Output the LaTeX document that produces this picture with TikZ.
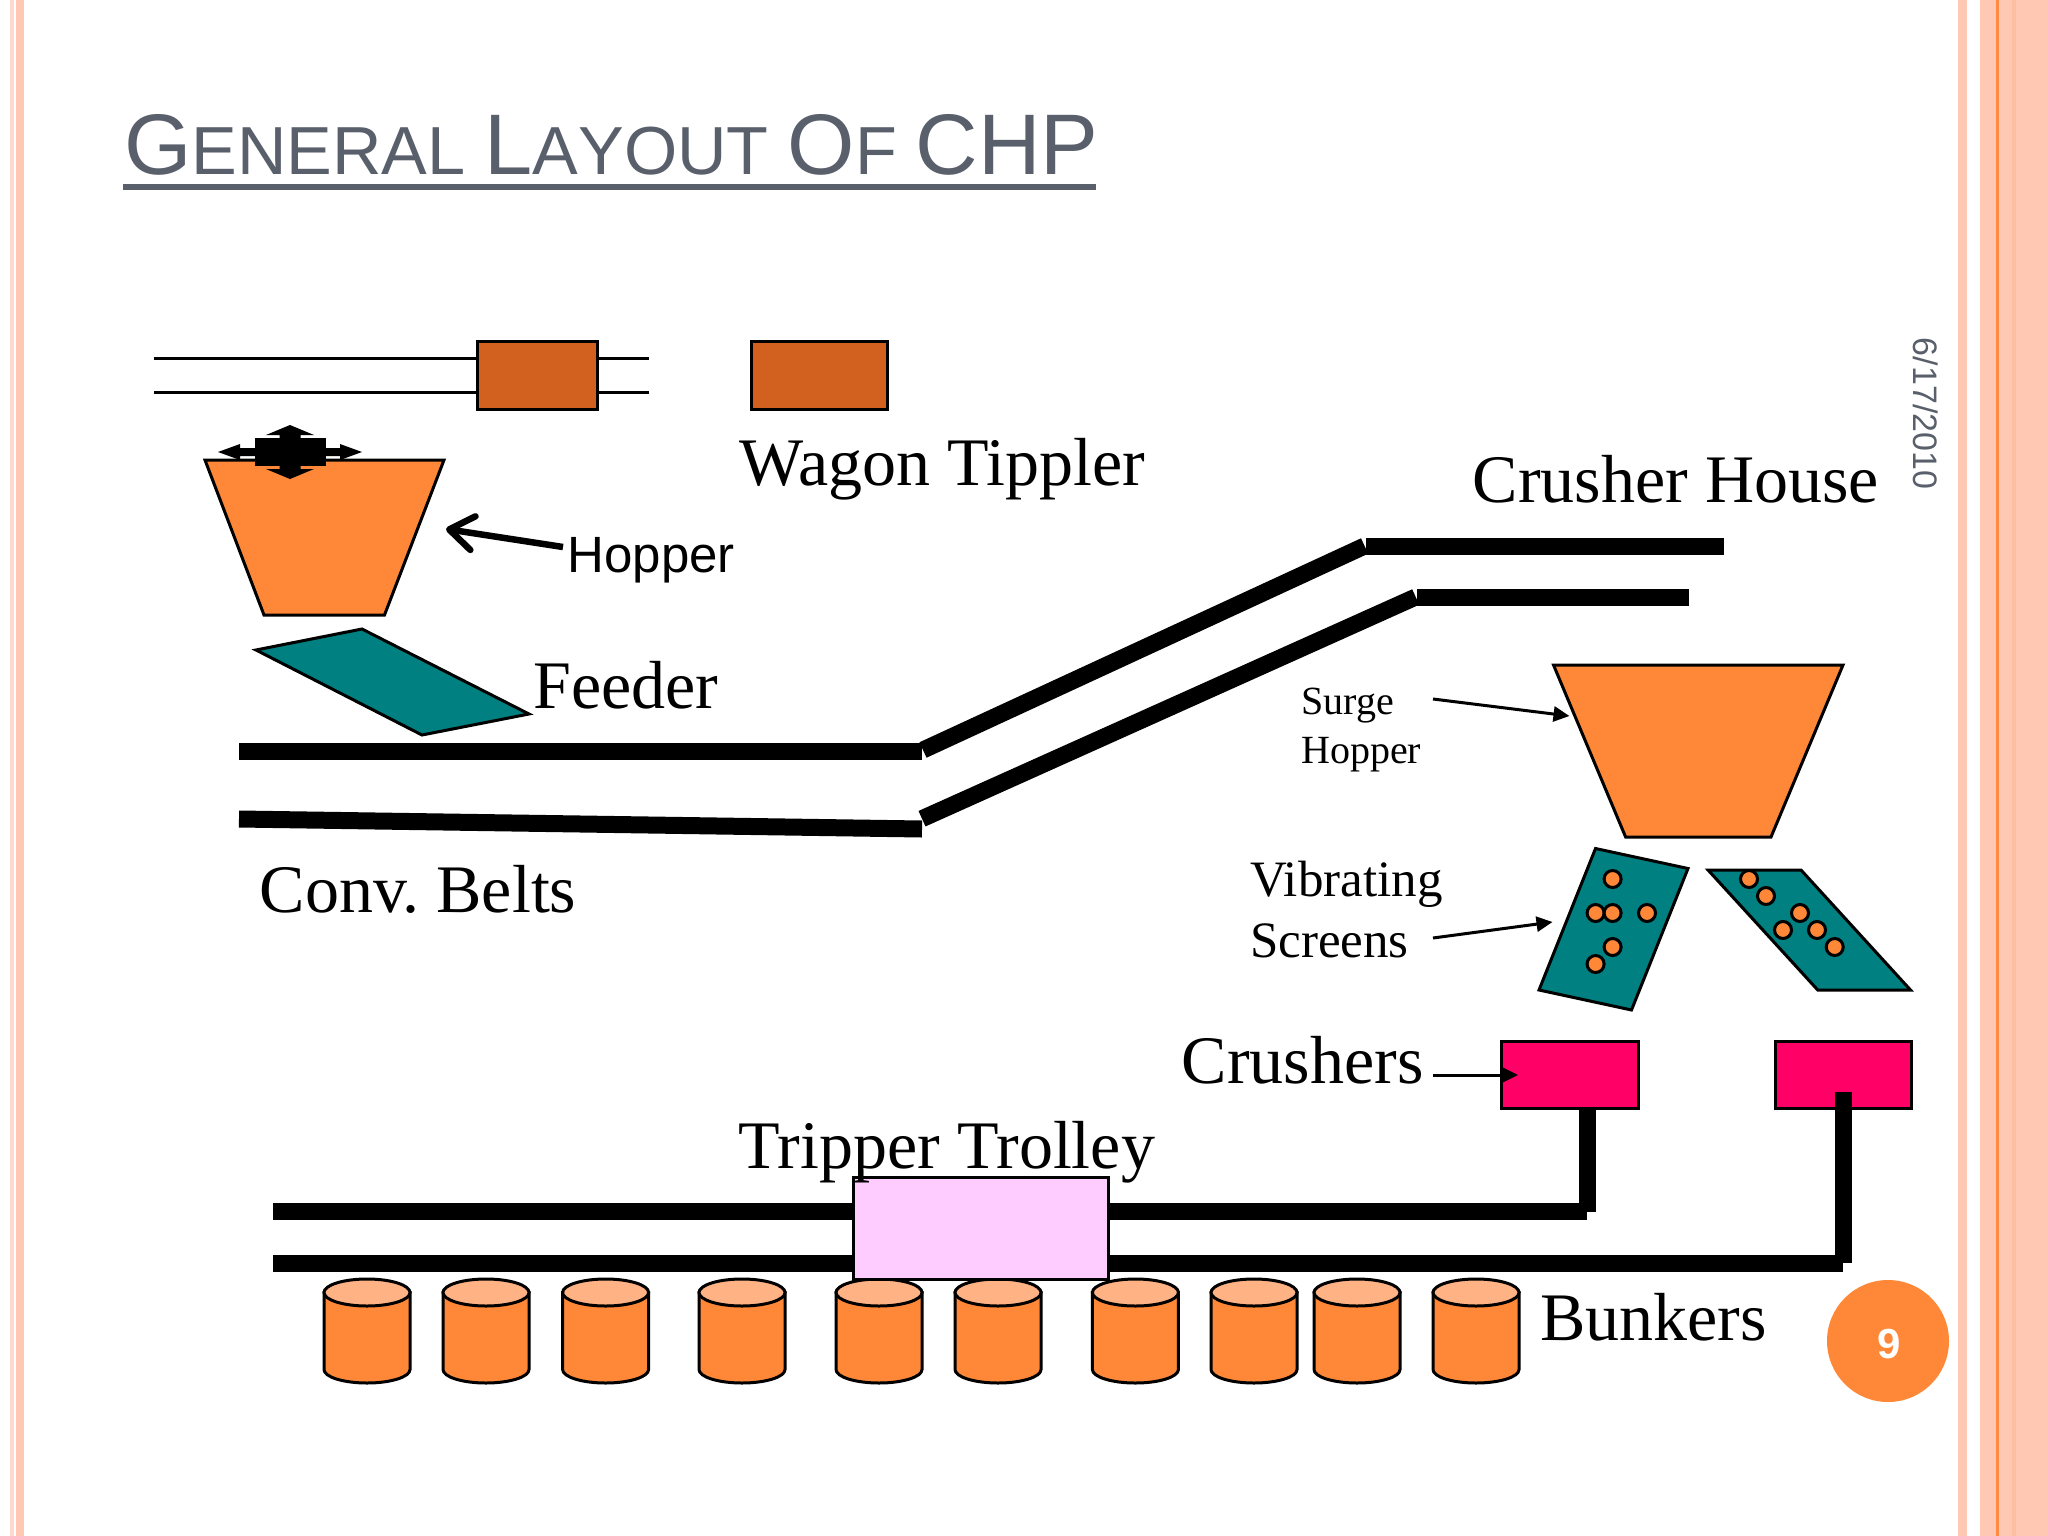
\documentclass[tikz,border=0pt]{standalone}
\usepackage{fontspec}
\setmainfont{Liberation Serif}
\newfontfamily\arialfont{Liberation Sans}
\newfontfamily\titlefont[Kerning=Off]{Liberation Sans}
\usepackage{tikz}
\usetikzlibrary{shapes.geometric,arrows.meta}
\definecolor{bandpeach}{HTML}{FFC8B2}
\definecolor{bandpale}{HTML}{FFD9CD}
\definecolor{banddark}{HTML}{FDBEA2}
\definecolor{bandline}{HTML}{FF8A45}
\definecolor{titlegrey}{HTML}{595F6B}
\definecolor{hopperorange}{HTML}{FF8838}
\definecolor{cylindertop}{HTML}{FFB385}
\definecolor{tipplerbrown}{HTML}{D26120}
\definecolor{screenteal}{HTML}{008080}
\definecolor{crusherpink}{HTML}{FF0066}
\definecolor{trolleypink}{HTML}{FFCCFF}
\newcommand{\tcap}[1]{{\fontsize{86}{90}\selectfont #1}}

\begin{document}
\begin{tikzpicture}[x=1pt,y=-1pt]
		\tikzstyle{belt}=[draw=black,line width=17pt]
		\tikzstyle{rail}=[draw=black,line width=3pt]
		\tikzstyle{part}=[draw=black,line width=3pt,line join=miter]
		\tikzstyle{box}=[part,shape=rectangle,inner sep=0pt,outer sep=0pt]
		\tikzstyle{pellet}=[part,shape=circle,fill=hopperorange,minimum size=17pt,inner sep=0pt]
		\tikzstyle{bigtext}=[anchor=base west,inner sep=0pt,font=\fontsize{68}{80}\selectfont]
		\tikzstyle{pointer}=[draw=black,line width=3pt,-{Triangle[length=16pt,width=15pt]}]

		\useasboundingbox (0,0) rectangle (2048,1536);
		\fill[white] (0,0) rectangle (2048,1536);

		\fill[bandpale] (10,0) rectangle (14,1536);
		\fill[bandpeach] (16,0) rectangle (24,1536);
		\fill[bandpeach] (1958,0) rectangle (1967,1536);
		\fill[bandpeach] (1980,0) rectangle (2048,1536);
		\fill[banddark] (2012,0) rectangle (2016,1536);
		\fill[bandline] (1995.5,0) rectangle (1998.5,1536);

		\node[anchor=base west,inner sep=0pt,xscale=1.007,text=titlegrey,font=\titlefont\fontsize{68}{80}\selectfont](title) at (124,175){\tcap{G}ENERAL \tcap{L}AYOUT \tcap{O}F \tcap{CHP}};
		\coordinate (ul0) at (123,187);
		\coordinate (ul1) at (1096,187);
		\draw[draw=titlegrey,line width=6.5pt] (ul0) -- (ul1);

		\coordinate (ra) at (154,358);
		\coordinate (rb) at (649,358);
		\coordinate (rc) at (154,392);
		\coordinate (rd) at (649,392);
		\draw[rail] (ra) -- (rb);
		\draw[rail] (rc) -- (rd);
		\node[box,fill=tipplerbrown,minimum width=120pt,minimum height=68pt](wagon) at (537.5,375.5){};
		\node[box,fill=tipplerbrown,minimum width=136pt,minimum height=68pt](tippler) at (819,375.5){};
		\node[bigtext](tipplerlabel) at (739.5,485.5){Wagon Tippler};

		\draw[part,fill=hopperorange] (205,460) -- (444,460) -- (384.5,615) -- (264,615) -- cycle;
		\fill[black] (218,452) -- (240,444) -- (240,448) -- (340,448) -- (340,444) -- (362,452) -- (340,460) -- (340,456) -- (240,456) -- (240,460) -- cycle;
		\fill[black] (290,425) -- (314,435) -- (300.5,435) -- (300.5,469) -- (314,469) -- (290,479) -- (266,469) -- (279.5,469) -- (279.5,435) -- (266,435) -- cycle;
		\node[shape=rectangle,fill=black,inner sep=0pt,minimum width=71pt,minimum height=28pt](pusher) at (290,452){};

		\node[anchor=base west,inner sep=0pt,font=\arialfont\fontsize{51}{60}\selectfont](hopperlabel) at (567.5,572){Hopper};
		\coordinate (hoppertip) at (446,529);
		\coordinate (hoppertail) at (563,547);
		\draw[line width=6.5pt,-{Straight Barb[length=24pt,width=34pt,round]}] (hoppertail) -- (hoppertip);

		\draw[part,fill=screenteal] (256,650) -- (362,629) -- (529,714) -- (422,735) -- cycle;
		\node[bigtext](feederlabel) at (533,708){Feeder};

		\coordinate (ta) at (239,751);
		\coordinate (tb) at (922,751);
		\coordinate (tc) at (923,750);
		\coordinate (td) at (1364.6,546);
		\coordinate (te) at (1366,546);
		\coordinate (tf) at (1724,546);
		\draw[belt] (ta) -- (tb);
		\draw[belt] (tc) -- (td);
		\draw[belt] (te) -- (tf);

		\coordinate (ua) at (239,819);
		\coordinate (ub) at (922,829);
		\coordinate (uc) at (922,818.7);
		\coordinate (ud) at (1415.7,597);
		\coordinate (ue) at (1417,597);
		\coordinate (uf) at (1689,597);
		\draw[belt] (ua) -- (ub);
		\draw[belt] (uc) -- (ud);
		\draw[belt] (ue) -- (uf);

		\node[bigtext](beltlabel) at (259.5,912.5){Conv.\ Belts};
		\node[bigtext](houselabel) at (1472.5,502){Crusher House};

		\draw[part,fill=hopperorange] (1553.5,665) -- (1843,665) -- (1771,837) -- (1625.6,837) -- cycle;
		\node[anchor=base west,inner sep=0pt,align=left,font=\fontsize{40}{49}\selectfont](surgelabel) at (1301,763){Surge\\Hopper};
		\coordinate (surgetail) at (1433,699);
		\coordinate (surgetip) at (1569.5,716);
		\draw[pointer] (surgetail) -- (surgetip);

		\draw[part,fill=screenteal] (1595.5,848.5) -- (1688,868.5) -- (1631.5,1010) -- (1539,990) -- cycle;
		\draw[part,fill=screenteal] (1708,870) -- (1801,870) -- (1910.5,990) -- (1817.7,990) -- cycle;
		\foreach \dx/\dy [count=\i] in {1612.6/879,1595.6/913,1612.6/913,1647/913,1612.6/947,1595.6/964,1749/879,1766/896,1800/913,1783/930,1817/930,1834.7/947}
			\node[pellet](dot\i) at (\dx,\dy){};
		\node[anchor=base west,inner sep=0pt,align=left,font=\fontsize{51}{61}\selectfont](screenlabel) at (1250,957){Vibrating\\Screens};
		\coordinate (screentail) at (1433,938);
		\coordinate (screentip) at (1552.5,922);
		\draw[pointer] (screentail) -- (screentip);

		\node[box,fill=crusherpink,minimum width=136.5pt,minimum height=67pt](crusher1) at (1570,1075){};
		\node[box,fill=crusherpink,minimum width=136pt,minimum height=67pt](crusher2) at (1843.3,1075){};
		\node[bigtext](crusherlabel) at (1181.5,1083.5){Crushers};
		\coordinate (crushertail) at (1433,1075);
		\coordinate (crushertip) at (1518,1075);
		\draw[pointer] (crushertail) -- (crushertip);

		\foreach \bx [count=\i] in {367,486,605.6,742,879,998,1135.4,1254,1357,1476}{
			\coordinate (bunker\i) at (\bx,1292.5);
			\draw[part,fill=hopperorange] ([xshift=-43pt]bunker\i) -- ++(0,77) arc[start angle=180,end angle=360,x radius=43pt,y radius=13.5pt] -- ++(0,-77) -- cycle;
			\draw[part,fill=cylindertop] (bunker\i) ellipse[x radius=43pt,y radius=13.5pt];
		}

		\coordinate (va) at (273,1211.5);
		\coordinate (vb) at (1587,1211.5);
		\coordinate (vc) at (1587.3,1211.7);
		\coordinate (vd) at (1587.3,1108);
		\draw[belt] (va) -- (vb);
		\draw[belt] (vc) -- (vd);
		\coordinate (wa) at (273,1263);
		\coordinate (wb) at (1842.7,1263);
		\coordinate (wc) at (1843.2,1262.7);
		\coordinate (wd) at (1843.2,1092);
		\draw[belt] (wa) -- (wb);
		\draw[belt] (wc) -- (wd);

		\node[box,fill=trolleypink,minimum width=255pt,minimum height=102pt](trolley) at (981,1228.5){};
		\node[bigtext](trolleylabel) at (738.5,1168){Tripper Trolley};
		\node[bigtext](bunkerlabel) at (1540,1340){Bunkers};

		\node[shape=circle,fill=hopperorange,minimum size=122pt,inner sep=0pt](pagedisc) at (1888,1341){};
		\node[inner sep=0pt,text=white,font=\arialfont\bfseries\fontsize{42}{48}\selectfont](pageno) at (1889,1344){9};
		\node[rotate=-90,inner sep=0pt,text=titlegrey,font=\arialfont\fontsize{34}{40}\selectfont](datelabel) at (1926,413.5){6/17/2010};
	\end{tikzpicture}
\end{document}
